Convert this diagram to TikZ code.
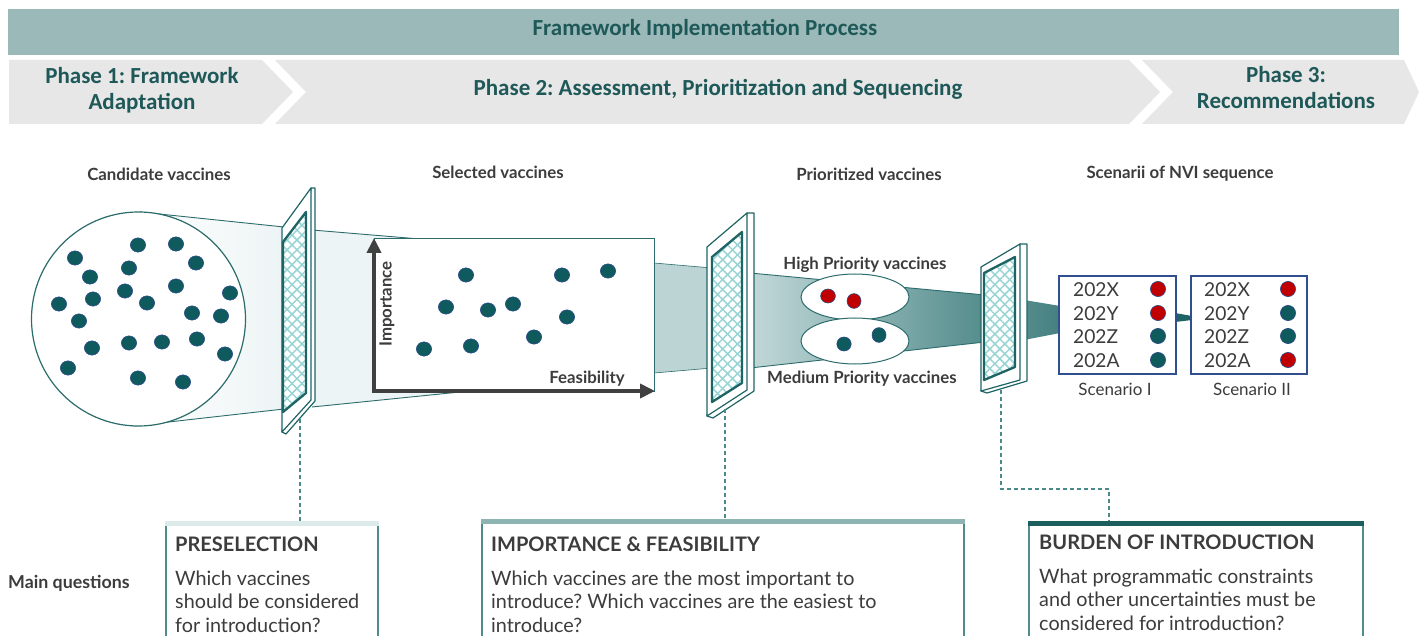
\documentclass[tikz,border=0pt]{standalone}
\usepackage{fontspec}
\setmainfont{Lato}
\newfontfamily\calib{Carlito}
\usetikzlibrary{patterns.meta,arrows.meta,shapes.geometric}
\definecolor{bannerc}{HTML}{9AB9B8}
\definecolor{phasec}{HTML}{E7E7E7}
\definecolor{phtext}{HTML}{1F5858}
\definecolor{tealc}{HTML}{1F6464}
\definecolor{linec}{HTML}{2C6C6C}
\definecolor{dotc}{HTML}{0F5A5C}
\definecolor{dotedge}{HTML}{2F4E8C}
\definecolor{redc}{HTML}{C00000}
\definecolor{meshc}{HTML}{98D4D4}
\definecolor{txt}{HTML}{3C3C3C}
\definecolor{pale}{HTML}{EDF4F5}
\definecolor{navy}{HTML}{2F4F8F}
\definecolor{dashc}{HTML}{4A8A8A}
\definecolor{axisc}{HTML}{404040}
\definecolor{barA}{HTML}{DCEAEA}
\definecolor{barB}{HTML}{8DB3B3}
\definecolor{barC}{HTML}{1C5E5E}
\definecolor{sidec}{HTML}{4F8D8D}
\begin{document}
\frenchspacing
\begin{tikzpicture}[x=1pt,y=-1pt,
  lbl/.style={font=\bfseries\fontsize{16.8}{20}\selectfont, text=txt, inner sep=0},
  phase/.style={font=\calib\bfseries\fontsize{23}{26}\selectfont, text=phtext, align=center, inner sep=0},
  vdot/.style={fill=dotc, draw=dotedge, line width=0.6pt},
  rdot/.style={fill=redc, draw=dotedge, line width=0.6pt},
  fcase/.style={fill=white, draw=tealc, line width=1.2pt, line join=round},
  mesh/.style={draw=tealc, line width=2.3pt, line join=round},
  funline/.style={draw=linec, line width=0.9pt},
  dashline/.style={draw=dashc, line width=1.3pt, dash pattern=on 4pt off 3pt},
  btitle/.style={font=\bfseries\fontsize{20}{24}\selectfont, text=txt, inner sep=0, anchor=base west},
  bbody/.style={font=\fontsize{19.8}{23.6}\selectfont, text=txt, inner sep=0, anchor=north west, align=left},
  yr/.style={font=\fontsize{19.2}{22}\selectfont, text=txt, inner sep=0, anchor=base west},
  sbox/.style={draw=navy, line width=1.2pt, fill=white},
  bside/.style={draw=sidec, line width=1.2pt},
  scen/.style={font=\fontsize{17}{20}\selectfont, text=txt, inner sep=0}
]
\useasboundingbox (0,0) rectangle (1419,636);
\fill[white] (0,0) rectangle (1419,636);

% ---------- banner ----------
\fill[bannerc] (8,9) rectangle (1399,55);
\node[font=\calib\bfseries\fontsize{23}{26}\selectfont, text=phtext, inner sep=0] (title) at (705,29) {Framework Implementation Process};

% phases
\fill[phasec] (9,60) -- (262,60) -- (293,92) -- (262,124) -- (9,124) -- cycle;
\fill[phasec] (275,60) -- (1129,60) -- (1160,92) -- (1129,124) -- (275,124) -- (306,92) -- cycle;
\fill[phasec] (1142,60) -- (1404,60) -- (1419,92) -- (1404,124) -- (1142,124) -- (1173,92) -- cycle;
\node[phase] (p1) at (142,90) {Phase 1: Framework\\Adaptation};
\node[phase] (p2) at (718,89) {Phase 2: Assessment, Prioritization and Sequencing};
\node[phase] (p3) at (1286,88) {Phase 3:\\Recommendations};

% ---------- top labels ----------
\node[lbl] (lc) at (159,174) {Candidate vaccines};
\node[lbl] (ls) at (498,172) {Selected vaccines};
\node[lbl] (lp) at (869,174) {Prioritized vaccines};
\node[lbl] (ln) at (1180,174) {Scenarii of NVI sequence};

% ---------- funnels ----------
\shade[left color=white, right color=pale] (140,212) -- (284,227) -- (284,409) -- (133,426) -- cycle;
\draw[funline] (140,212) -- (284,227) (133,426) -- (284,409);
\fill[pale] (312,230) -- (420,239) -- (460,392) -- (312,407) -- cycle;
\draw[funline] (312,230) -- (420,239) (312,407) -- (460,392);
\fill[fill={rgb,255:red,189;green,212;blue,213}] (654,263) -- (712,268) -- (712,368) -- (654,373) -- cycle;
\draw[funline, line width=0.6pt] (654,263) -- (712,268) (654,373) -- (712,368);
\shade[left color={rgb,255:red,194;green,216;blue,216}, right color={rgb,255:red,84;green,140;blue,140}] (750,273) -- (985,295) -- (985,342) -- (750,368) -- cycle;
\draw[funline] (750,273) -- (985,295) (750,368) -- (985,342);
\shade[left color={rgb,255:red,84;green,140;blue,140}, right color={rgb,255:red,70;green,128;blue,128}] (1024,300) -- (1060,306) -- (1060,333) -- (1024,340) -- cycle;
\fill[tealc] (1175,313) -- (1192,316) -- (1192,320) -- (1175,322) -- cycle;

% ---------- candidate circle ----------
\filldraw[fill=white, draw=linec, line width=1.2pt] (138.5,319) circle[radius=107];
\foreach \x/\y in {75/258,138/245,176/244,129/268,196/263,90/277,176/286,125/291,93/299,230/293,59/304,147/303,192/313,221/316,79/321,129/343,162/342,197/339,92/348,225/354,68/368,138/378,183/382}
  \path[vdot] (\x,\y) circle[x radius=7.6, y radius=7.1];

% ---------- selected rectangle ----------
\filldraw[fill=white, draw=linec, line width=1pt] (374,239) rectangle (654,391);
\foreach \x/\y in {466/275,562/275,608/271,446/307,488/310,513/304,567/317,534/337,424/349,471/346}
  \path[vdot] (\x,\y) circle[x radius=7.6, y radius=7.1];
\draw[axisc, line width=4pt, {Triangle[length=15pt,width=14pt]}-{Triangle[length=15pt,width=14pt]}] (374,238) -- (374,391) -- (655,391);
\node[lbl, rotate=90] (imp) at (387,304) {Importance};
\node[lbl] (fea) at (587,379) {Feasibility};

% ---------- priority ellipses ----------
\filldraw[fill=white, draw=linec, line width=1pt] (855,297) ellipse[x radius=54, y radius=23];
\filldraw[fill=white, draw=linec, line width=1pt] (855,341) ellipse[x radius=54, y radius=23];
\path[rdot] (828,296) circle[x radius=7.4, y radius=7];
\path[rdot] (854,301) circle[x radius=7, y radius=7.4];
\path[vdot] (844,344) circle[x radius=7.2, y radius=7];
\path[vdot] (879,335) circle[x radius=7, y radius=7.4];
\node[lbl] (hp) at (865,265) {High Priority vaccines};
\node[lbl] (mp) at (862,379) {Medium Priority vaccines};

% ---------- filters ----------
% filter 1
\path[fcase] (311,188) -- (315,188) -- (315,401) -- (286,434) -- (282,432) -- cycle;
\path[fcase] (282,228) -- (311,188) -- (311,400) -- (282,432) -- cycle;
\fill[white] (283,242) -- (306,212) -- (306,393) -- (283,412) -- cycle;
\fill[pattern={Lines[angle=45,distance=7pt,line width=1.5pt]}, pattern color=meshc] (283,242) -- (306,212) -- (306,393) -- (283,412) -- cycle;
\fill[pattern={Lines[angle=-45,distance=7pt,line width=1.5pt]}, pattern color=meshc] (283,242) -- (306,212) -- (306,393) -- (283,412) -- cycle;
\path[mesh] (283,242) -- (306,212) -- (306,393) -- (283,412) -- cycle;
% filter 2
\path[fcase] (747,213) -- (754,213) -- (754,391) -- (713,418) -- (707,416) -- cycle;
\path[fcase] (707,247) -- (747,213) -- (747,390) -- (707,416) -- cycle;
\fill[white] (712,257) -- (742,232) -- (742,383) -- (712,402) -- cycle;
\fill[pattern={Lines[angle=45,distance=7pt,line width=1.5pt]}, pattern color=meshc] (712,257) -- (742,232) -- (742,383) -- (712,402) -- cycle;
\fill[pattern={Lines[angle=-45,distance=7pt,line width=1.5pt]}, pattern color=meshc] (712,257) -- (742,232) -- (742,383) -- (712,402) -- cycle;
\path[mesh] (712,257) -- (742,232) -- (742,383) -- (712,402) -- cycle;
% filter 3
\path[fcase] (1020,244) -- (1027,244) -- (1027,381) -- (987,393) -- (981,391) -- cycle;
\path[fcase] (981,267) -- (1020,244) -- (1020,380) -- (981,391) -- cycle;
\fill[white] (984,273) -- (1015,257) -- (1015,367) -- (984,380) -- cycle;
\fill[pattern={Lines[angle=45,distance=7pt,line width=1.5pt]}, pattern color=meshc] (984,273) -- (1015,257) -- (1015,367) -- (984,380) -- cycle;
\fill[pattern={Lines[angle=-45,distance=7pt,line width=1.5pt]}, pattern color=meshc] (984,273) -- (1015,257) -- (1015,367) -- (984,380) -- cycle;
\path[mesh] (984,273) -- (1015,257) -- (1015,367) -- (984,380) -- cycle;

% ---------- scenario boxes ----------
\draw[sbox] (1059,276) rectangle (1176,374);
\draw[sbox] (1191,276) rectangle (1307,374);
\foreach \t/\y in {202X/297,202Y/320,202Z/344,202A/367} {
  \node[yr] at (1073,\y) {\t};
  \node[yr] at (1204,\y) {\t};
}
\path[rdot] (1158,289) circle[radius=7.6];
\path[rdot] (1158,313) circle[radius=7.6];
\path[vdot] (1158,336) circle[radius=7.6];
\path[vdot] (1158,360) circle[radius=7.6];
\path[rdot] (1288,289) circle[radius=7.6];
\path[vdot] (1288,313) circle[radius=7.6];
\path[vdot] (1288,336) circle[radius=7.6];
\path[rdot] (1288,360) circle[radius=7.6];
\node[scen] (s1) at (1115,389) {Scenario I};
\node[scen] (s2) at (1252,389) {Scenario II};

% ---------- dashed connectors ----------
\coordinate (f1) at (300,419);
\coordinate (f2) at (725,409);
\coordinate (f3) at (1001,390);
\coordinate (b1) at (300,521);
\coordinate (b2) at (725,519);
\coordinate (b3) at (1109,521);
\draw[dashline] (f1) -- (b1);
\draw[dashline] (f2) -- (b2);
\draw[dashline] (f3) |- (1109,489) -- (b3);

% ---------- question boxes ----------
\draw[bside] (166,640) -- (166,524) (378,524) -- (378,640);
\fill[barA] (165.4,521) rectangle (378.6,526);
\node[btitle] (t1) at (175,551) {PRESELECTION};
\node[bbody] (q1) at (175,570.5) {Which vaccines\\should be considered\\for introduction?};

\draw[bside] (482,640) -- (482,522) (964,522) -- (964,640);
\fill[barB] (481.4,519) rectangle (964.6,524);
\node[btitle] (t2) at (491,551) {IMPORTANCE \& FEASIBILITY};
\node[bbody] (q2) at (491,570.5) {Which vaccines are the most important to\\introduce? Which vaccines are the easiest to\\introduce?};

\draw[bside] (1029,640) -- (1029,524) (1363,524) -- (1363,640);
\fill[barC] (1028.4,521) rectangle (1363.6,526);
\node[btitle] (t3) at (1039,549) {BURDEN OF INTRODUCTION};
\node[bbody] (q3) at (1039,568.5) {What programmatic constraints\\and other uncertainties must be\\considered for introduction?};

\node[font=\bfseries\fontsize{17.8}{20}\selectfont, text=txt, inner sep=0, anchor=west] (mq) at (8,583) {Main questions};
\end{tikzpicture}
\end{document}
